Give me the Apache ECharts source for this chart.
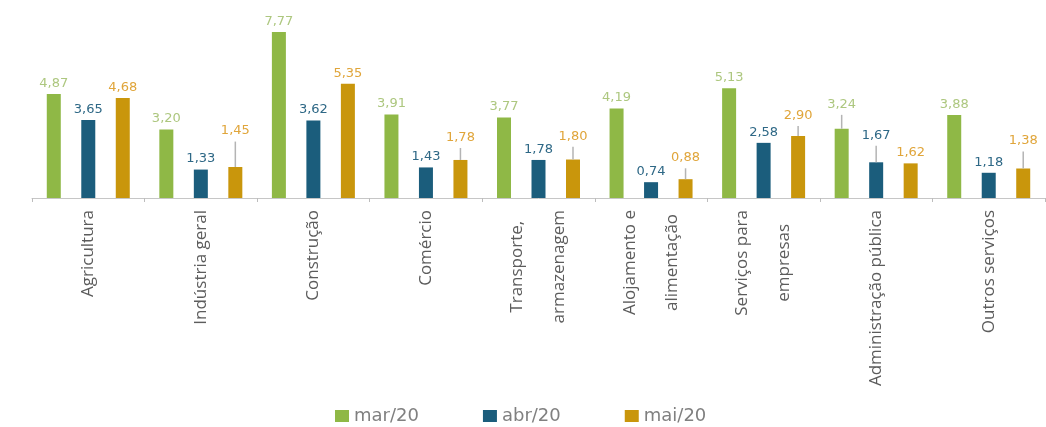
<!DOCTYPE html>
<html>
<head>
<meta charset="utf-8">
<script src="https://cdn.jsdelivr.net/npm/echarts@6/dist/echarts.min.js"></script>
<style>
  html, body { margin: 0; padding: 0; background: #ffffff; }
  #chart { width: 1046px; height: 427px; }
</style>
</head>
<body>
<div id="chart"></div>
<script>
// Sectors (x axis)
const categories = [
  'Agricultura',
  'Indústria geral',
  'Construção',
  'Comércio',
  'Transporte,\narmazenagem',
  'Alojamento e\nalimentação',
  'Serviços para\nempresas',
  'Administração pública',
  'Outros serviços'
];

// Monthly values per sector
const seriesNames = ['mar/20', 'abr/20', 'mai/20'];
const mar20 = [4.87, 3.20, 7.77, 3.91, 3.77, 4.19, 5.13, 3.24, 3.88];
const abr20 = [3.65, 1.33, 3.62, 1.43, 1.78, 0.74, 2.58, 1.67, 1.18];
const mai20 = [4.68, 1.45, 5.35, 1.78, 1.80, 0.88, 2.90, 1.62, 1.38];

// Upper end of the thin whiskers drawn above some bars (null = no whisker)
const marWhisker = [null, null, null, null, null, null, null, 3.89, null];
const abrWhisker = [null, null, null, null, null, null, null, 2.44, null];
const maiWhisker = [null, 2.64, null, 2.34, 2.40, 1.39, 3.37, null, 2.17];

const barColors = ['#8fb846', '#1b5d7c', '#c9960c'];
const labelColors = ['#adc77f', '#2e6886', '#e0a53a'];

const BAR_W = 14;
const BAR_GAP = 1.464; // gap between bars, as a fraction of bar width

const values = [mar20, abr20, mai20];
const whiskers = [marWhisker, abrWhisker, maiWhisker];

const fmt = v => v.toFixed(2).replace('.', ',');

const barSeries = values.map((vals, k) => ({
  name: seriesNames[k],
  type: 'bar',
  data: vals,
  barWidth: BAR_W,
  barGap: (BAR_GAP * 100) + '%',
  itemStyle: { color: barColors[k] },
  z: 2
}));

// Whiskers and value labels, placed over the matching bar of each series
const overlaySeries = values.map((vals, k) => ({
  type: 'custom',
  silent: true,
  z: 3,
  data: vals.map((v, i) => [i, v, whiskers[k][i] == null ? v : whiskers[k][i]]),
  renderItem: function (params, api) {
    const idx = api.value(0);
    const val = api.value(1);
    const top = api.value(2);
    const offset = (k - 1) * BAR_W * (1 + BAR_GAP);
    const base = api.coord([idx, val]);
    const x = base[0] + offset;
    const yBar = base[1];
    const yTop = api.coord([idx, top])[1];
    const children = [];
    if (top > val) {
      children.push({
        type: 'line',
        shape: { x1: x, y1: yBar, x2: x, y2: yTop },
        style: { stroke: '#b4b4b4', lineWidth: 1.5 }
      });
    }
    children.push({
      type: 'text',
      style: {
        x: x,
        y: yTop - 4,
        text: fmt(val),
        fill: labelColors[k],
        font: '13px "DejaVu Sans"',
        align: 'center',
        verticalAlign: 'bottom'
      }
    });
    return { type: 'group', children: children };
  }
}));

const labelFont = {
  fontSize: 17,
  lineHeight: 42,
  fontFamily: '"Open Sans"',
  color: '#5c5c5c'
};

const chart = echarts.init(document.getElementById('chart'), null, { renderer: 'canvas' });
chart.setOption({
  animation: false,
  backgroundColor: '#ffffff',
  grid: { left: 32, right: 1, top: 27, bottom: 229, containLabel: false },
  legend: {
    data: seriesNames,
    left: 330,
    top: 402,
    itemWidth: 14,
    itemHeight: 12,
    itemGap: 64,
    icon: 'rect',
    textStyle: { color: '#808080', fontSize: 18, fontFamily: '"DejaVu Sans"' }
  },
  xAxis: {
    type: 'category',
    data: categories,
    axisLine: { lineStyle: { color: '#c6c6c6', width: 1 } },
    axisTick: { show: true, length: 4, lineStyle: { color: '#bdbdbd' } },
    axisLabel: Object.assign({
      interval: 0,
      rotate: 90,
      margin: 12,
      // each line centred within its label block
      formatter: v => v.split('\n').map(s => '{c|' + s + '}').join('\n'),
      rich: { c: Object.assign({ align: 'center' }, labelFont) }
    }, labelFont)
  },
  yAxis: {
    type: 'value',
    min: 0,
    max: 8,
    show: false,
    splitLine: { show: false }
  },
  series: barSeries.concat(overlaySeries)
});
</script>
</body>
</html>
